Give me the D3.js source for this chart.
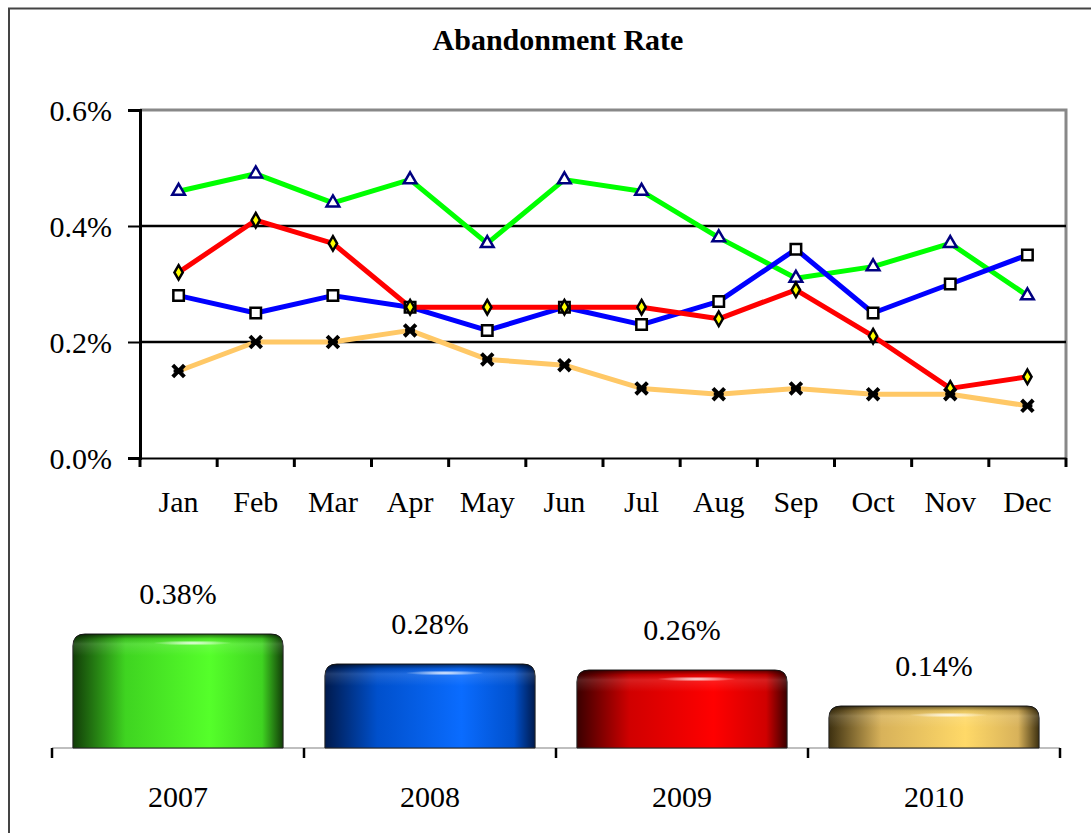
<!DOCTYPE html>
<html>
<head>
<meta charset="utf-8">
<title>Abandonment Rate</title>
<style>
  body { margin: 0; background: #fff; }
  svg text { font-family: "Liberation Serif", "Times New Roman", serif; fill: #000; }
</style>
<script src="https://cdn.jsdelivr.net/npm/d3@7"></script>
</head>
<body>
<svg id="chart" width="1091" height="833"></svg>
<script>
// data
var months = ["Jan", "Feb", "Mar", "Apr", "May", "Jun", "Jul", "Aug", "Sep", "Oct", "Nov", "Dec"];
var years = ["2007", "2008", "2009", "2010"];
var rate2007 = [0.46, 0.49, 0.44, 0.48, 0.37, 0.48, 0.46, 0.38, 0.31, 0.33, 0.37, 0.28];
var rate2008 = [0.28, 0.25, 0.28, 0.26, 0.22, 0.26, 0.23, 0.27, 0.36, 0.25, 0.30, 0.35];
var rate2009 = [0.32, 0.41, 0.37, 0.26, 0.26, 0.26, 0.26, 0.24, 0.29, 0.21, 0.12, 0.14];
var rate2010 = [0.15, 0.20, 0.20, 0.22, 0.17, 0.16, 0.12, 0.11, 0.12, 0.11, 0.11, 0.09];
var annualRate = [0.38, 0.28, 0.26, 0.14];
var yTicks = [0, 0.2, 0.4, 0.6];

var series = [
  { year: "2007", values: rate2007, color: "#00ff00", marker: "triangle" },
  { year: "2008", values: rate2008, color: "#0000ff", marker: "square" },
  { year: "2009", values: rate2009, color: "#ff0000", marker: "diamond" },
  { year: "2010", values: rate2010, color: "#ffc866", marker: "cross" }
];
// bar colours: dark edge, bright body
var barColors = [
  { dark: "#123d08", mid: "#3fd421", bright: "#55ff2a" },
  { dark: "#001a4d", mid: "#0050cc", bright: "#0a6cff" },
  { dark: "#3a0000", mid: "#d00000", bright: "#ff0000" },
  { dark: "#3d3010", mid: "#d8b25a", bright: "#ffd968" }
];

var labelSize = "30px";

var svg = d3.select("#chart");

// outer frame
svg.append("path")
  .attr("d", "M9,833 L9,8.5 L1091,8.5")
  .attr("fill", "none")
  .attr("stroke", "#444")
  .attr("stroke-width", 2);

svg.append("text")
  .attr("x", 558)
  .attr("y", 50)
  .attr("text-anchor", "middle")
  .style("font-size", "30px")
  .style("font-weight", "bold")
  .text("Abandonment Rate");

// ---------- line chart ----------
var plot = { left: 140, right: 1066, top: 110, bottom: 458 };

var x = d3.scaleBand().domain(months).range([plot.left, plot.right]);
var y = d3.scaleLinear().domain([0, 0.6]).range([plot.bottom, plot.top]);

// plot frame (top + right, grey)
svg.append("path")
  .attr("d", "M" + plot.left + "," + plot.top + " L" + plot.right + "," + plot.top + " L" + plot.right + "," + plot.bottom)
  .attr("fill", "none")
  .attr("stroke", "#888")
  .attr("stroke-width", 3);

// gridlines
svg.append("g").selectAll("line")
  .data(yTicks.filter(function(d) { return d > 0 && d < 0.6; }))
  .join("line")
  .attr("x1", plot.left).attr("x2", plot.right)
  .attr("y1", function(d) { return y(d); }).attr("y2", function(d) { return y(d); })
  .attr("stroke", "#000")
  .attr("stroke-width", 2.5);

var yAxis = svg.append("g")
  .attr("transform", "translate(" + plot.left + ",0)")
  .call(d3.axisLeft(y).tickValues(yTicks).tickSize(12).tickPadding(16)
    .tickFormat(function(d) { return d3.format(".1f")(d) + "%"; }));
yAxis.select(".domain").attr("stroke", "#000").attr("stroke-width", 3);
yAxis.selectAll(".tick line").attr("stroke", "#000").attr("stroke-width", 2);
yAxis.selectAll("text").style("font-size", labelSize).attr("dy", "0.35em");

var xAxis = svg.append("g")
  .attr("transform", "translate(0," + plot.bottom + ")")
  .call(d3.axisBottom(x).tickSize(0).tickPadding(33));
xAxis.select(".domain").attr("stroke", "#000").attr("stroke-width", 2);
xAxis.selectAll("text").style("font-size", labelSize);
// tick marks between categories
xAxis.append("g").selectAll("line")
  .data(months.map(function(m) { return x(m); }).concat([plot.right]))
  .join("line")
  .attr("x1", function(d) { return d; }).attr("x2", function(d) { return d; })
  .attr("y1", 0).attr("y2", 9)
  .attr("stroke", "#000")
  .attr("stroke-width", 3);

var line = d3.line()
  .x(function(d, i) { return x(months[i]) + x.bandwidth() / 2; })
  .y(function(d) { return y(d); });

var lineG = svg.append("g");
series.forEach(function(s) {
  lineG.append("path")
    .datum(s.values)
    .attr("d", line)
    .attr("fill", "none")
    .attr("stroke", s.color)
    .attr("stroke-width", 5)
    .attr("stroke-linejoin", "round");
});

var symbolTypes = {
  triangle: d3.symbolTriangle,
  square: d3.symbolSquare,
  diamond: d3.symbolDiamond,
  cross: d3.symbolTimes
};

series.forEach(function(s) {
  var g = svg.append("g");
  g.selectAll("path")
    .data(s.values)
    .join("path")
    .attr("transform", function(d, i) {
      return "translate(" + (x(months[i]) + x.bandwidth() / 2) + "," + y(d) + ")";
    })
    .attr("d", function() {
      if (s.marker === "triangle") return d3.symbol(symbolTypes.triangle, 70)();
      if (s.marker === "square") return d3.symbol(symbolTypes.square, 110)();
      if (s.marker === "diamond") return d3.symbol(symbolTypes.diamond, 60)();
      return d3.symbol(symbolTypes.cross, 90)();
    })
    .attr("fill", s.marker === "diamond" ? "#ffff00" : (s.marker === "cross" ? "none" : "#fff"))
    .attr("stroke", s.marker === "triangle" ? "#000080" : "#000")
    .attr("stroke-width", s.marker === "cross" ? 4 : 2.5);
  if (s.marker === "cross") {
    // little bars on top/bottom of the star marker
    g.selectAll("line")
      .data(s.values)
      .join("line")
      .attr("x1", function(d, i) { return x(months[i]) + x.bandwidth() / 2 - 5; })
      .attr("x2", function(d, i) { return x(months[i]) + x.bandwidth() / 2 + 5; })
      .attr("y1", function(d) { return y(d); })
      .attr("y2", function(d) { return y(d); })
      .attr("stroke", "#000")
      .attr("stroke-width", 3);
  }
});

// ---------- annual bars ----------
var bar = { left: 52, right: 1060, base: 748 };
var xb = d3.scaleBand().domain(years).range([bar.left, bar.right]).paddingInner(0.166).paddingOuter(0.083);
var yb = d3.scaleLinear().domain([0, 0.4]).range([bar.base, bar.base - 120]);

var defs = svg.append("defs");
barColors.forEach(function(c, i) {
  var gr = defs.append("linearGradient").attr("id", "bar" + i)
    .attr("x1", 0).attr("x2", 1).attr("y1", 0).attr("y2", 0);
  gr.append("stop").attr("offset", "0%").attr("stop-color", c.dark);
  gr.append("stop").attr("offset", "25%").attr("stop-color", c.mid);
  gr.append("stop").attr("offset", "65%").attr("stop-color", c.bright);
  gr.append("stop").attr("offset", "90%").attr("stop-color", c.mid);
  gr.append("stop").attr("offset", "100%").attr("stop-color", c.dark);
});
var topShade = defs.append("linearGradient").attr("id", "topShade")
  .attr("x1", 0).attr("x2", 0).attr("y1", 0).attr("y2", 1);
topShade.append("stop").attr("offset", "0%").attr("stop-color", "#000").attr("stop-opacity", 0.6);
topShade.append("stop").attr("offset", "22%").attr("stop-color", "#000").attr("stop-opacity", 0.1);
topShade.append("stop").attr("offset", "45%").attr("stop-color", "#fff").attr("stop-opacity", 0.12);
topShade.append("stop").attr("offset", "100%").attr("stop-color", "#fff").attr("stop-opacity", 0);
var glint = defs.append("radialGradient").attr("id", "glint");
glint.append("stop").attr("offset", "0%").attr("stop-color", "#fff").attr("stop-opacity", 0.9);
glint.append("stop").attr("offset", "100%").attr("stop-color", "#fff").attr("stop-opacity", 0);

function barPath(x0, y0, w, h, r) {
  return "M" + x0 + "," + (y0 + h) +
    " L" + x0 + "," + (y0 + r) +
    " Q" + x0 + "," + y0 + " " + (x0 + r) + "," + y0 +
    " L" + (x0 + w - r) + "," + y0 +
    " Q" + (x0 + w) + "," + y0 + " " + (x0 + w) + "," + (y0 + r) +
    " L" + (x0 + w) + "," + (y0 + h) + " Z";
}

// baseline + ticks
svg.append("line")
  .attr("x1", bar.left).attr("x2", bar.right)
  .attr("y1", bar.base).attr("y2", bar.base)
  .attr("stroke", "#aaa").attr("stroke-width", 1.5);
svg.append("g").selectAll("line")
  .data(years.map(function(yr) { return xb(yr) - xb.step() * xb.paddingInner() / 2; }).concat([bar.right]))
  .join("line")
  .attr("x1", function(d) { return d; }).attr("x2", function(d) { return d; })
  .attr("y1", bar.base).attr("y2", bar.base + 10)
  .attr("stroke", "#000").attr("stroke-width", 2.5);

var barG = svg.append("g");
annualRate.forEach(function(v, i) {
  var bx = xb(years[i]), bw = xb.bandwidth(), by = yb(v), bh = bar.base - by;
  barG.append("path")
    .attr("d", barPath(bx, by, bw, bh, 12))
    .attr("fill", "url(#bar" + i + ")")
    .attr("stroke", "#222")
    .attr("stroke-width", 1);
  barG.append("path")
    .attr("d", barPath(bx, by, bw, 22, 12))
    .attr("fill", "url(#topShade)");
  barG.append("ellipse")
    .attr("cx", bx + bw * 0.57).attr("cy", by + 9)
    .attr("rx", 40).attr("ry", 2.5)
    .attr("fill", "url(#glint)");
  barG.append("text")
    .attr("x", bx + bw / 2)
    .attr("y", by - 30)
    .attr("text-anchor", "middle")
    .style("font-size", labelSize)
    .text(d3.format(".2f")(v) + "%");
  barG.append("text")
    .attr("x", bx + bw / 2)
    .attr("y", 807)
    .attr("text-anchor", "middle")
    .style("font-size", labelSize)
    .text(years[i]);
});
</script>
</body>
</html>
